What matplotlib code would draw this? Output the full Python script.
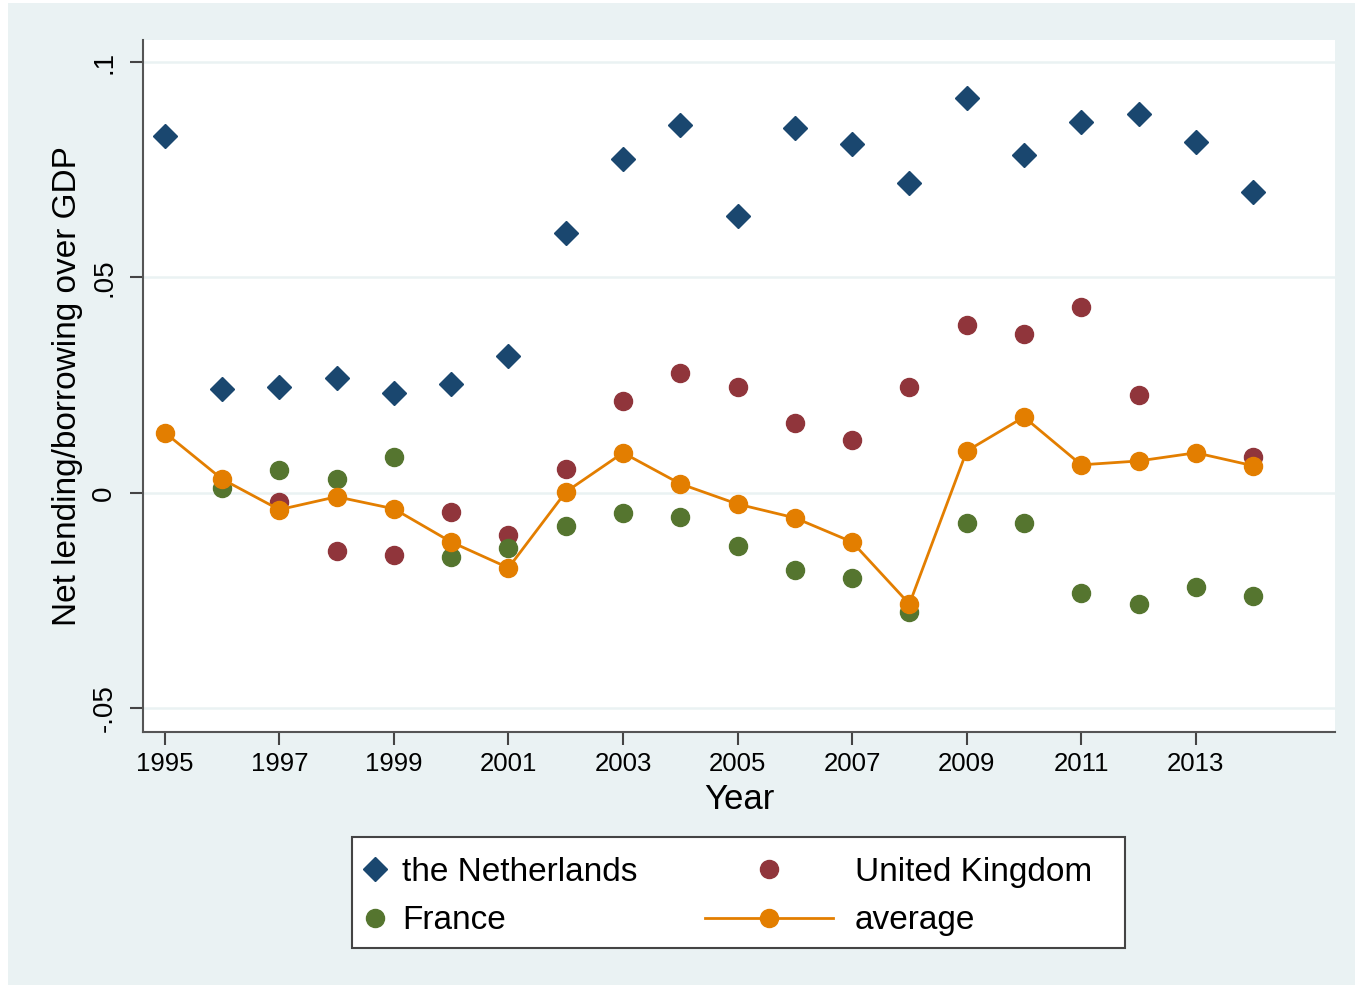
import numpy as np
import matplotlib.pyplot as plt
from matplotlib.lines import Line2D
from matplotlib.patches import Rectangle

plt.rcParams['font.family'] = ['Liberation Sans', 'DejaVu Sans']

# données
years = np.arange(1995, 2015)
netherlands = [0.0828, 0.0241, 0.0246, 0.0267, 0.0232, 0.0253, 0.0318, 0.0603, 0.0775, 0.0854,
               0.0643, 0.0847, 0.0810, 0.0719, 0.0916, 0.0784, 0.0861, 0.0879, 0.0814, 0.0698]
uk = [np.nan, np.nan, -0.0021, -0.0135, -0.0144, -0.0044, -0.0097, 0.0056, 0.0213, 0.0278,
      0.0246, 0.0162, 0.0123, 0.0246, 0.0390, 0.0369, 0.0432, 0.0227, np.nan, 0.0084]
france = [np.nan, 0.0012, 0.0053, 0.0032, 0.0084, -0.0148, -0.0128, -0.0077, -0.0046, -0.0056,
          -0.0123, -0.0179, -0.0197, -0.0276, -0.0070, -0.0070, -0.0232, -0.0258, -0.0218, -0.0239]
average = [0.0140, 0.0032, -0.0039, -0.0009, -0.0037, -0.0114, -0.0174, 0.0002, 0.0093, 0.0021,
           -0.0026, -0.0058, -0.0114, -0.0258, 0.0097, 0.0176, 0.0065, 0.0074, 0.0093, 0.0063]

yticks = [-0.05, 0, 0.05, 0.1]
ytick_labels = ['-.05', '0', '.05', '.1']
xticks = list(range(1995, 2014, 2))

navy = '#1a476f'
maroon = '#90353b'
green = '#55752f'
orange = '#e37e00'
bg = '#eaf2f3'

fig = plt.figure(figsize=(13.58, 9.88), dpi=100, facecolor='white')
fig.patches.append(Rectangle((8 / 1358, 3 / 988), 1347 / 1358, 982 / 988,
                             transform=fig.transFigure, facecolor=bg, edgecolor='none', zorder=-10))
ax = fig.add_axes([143 / 1358, 1 - 732 / 988, 1192 / 1358, 692 / 988])
ax.set_facecolor('white')

ax.plot(years, netherlands, 'D', color=navy, markersize=12, linestyle='none', zorder=3)
ax.plot(years, uk, 'o', color=maroon, markersize=13, linestyle='none', zorder=3)
ax.plot(years, france, 'o', color=green, markersize=13, linestyle='none', zorder=3)
ax.plot(years, average, '-o', color=orange, markersize=13, linewidth=2, zorder=4)

ax.set_xlim(1994.62, 2015.43)
ax.set_ylim(-0.0555, 0.1051)
ax.set_yticks(yticks)
ax.set_yticklabels(ytick_labels, rotation=90, va='center')
ax.set_xticks(xticks)
ax.tick_params(axis='both', direction='out', length=9.5, width=1.5, color='#444444')
ax.tick_params(axis='y', labelsize=20, pad=9)
ax.tick_params(axis='x', labelsize=18.5, pad=5)
ax.grid(axis='y', color=bg, linewidth=1.8, zorder=0)
ax.set_axisbelow(True)
for s in ['top', 'right']:
    ax.spines[s].set_visible(False)
for s in ['left', 'bottom']:
    ax.spines[s].set_color('#555555')
    ax.spines[s].set_linewidth(1.5)

ax.set_xlabel('Year', fontsize=25, labelpad=5)
ax.set_ylabel('Net lending/borrowing over GDP', fontsize=24, labelpad=6)

# légende en deux colonnes dans un cadre commun
fig.patches.append(Rectangle((352 / 1358, 1 - 948 / 988), 773 / 1358, 111 / 988,
                             transform=fig.transFigure, facecolor='white',
                             edgecolor='#444444', linewidth=1.5, zorder=1))
h_nl = Line2D([], [], marker='D', color=navy, markersize=12, linestyle='none')
h_fr = Line2D([], [], marker='o', color=green, markersize=13, linestyle='none')
h_uk = Line2D([], [], marker='o', color=maroon, markersize=13, linestyle='none')
h_avg = Line2D([], [], marker='o', color=orange, markersize=13, linewidth=2)

leg1 = fig.legend([h_nl, h_fr], ['the Netherlands', 'France'], loc='upper left',
                  bbox_to_anchor=(362 / 1358, 1 - 857 / 988), frameon=False, fontsize=24,
                  handlelength=0.8, handletextpad=0.4, labelspacing=0.52, borderpad=0,
                  borderaxespad=0)
leg2 = fig.legend([h_uk, h_avg], ['United Kingdom', 'average'], loc='upper left',
                  bbox_to_anchor=(705 / 1358, 1 - 857 / 988), frameon=False, fontsize=24,
                  handlelength=3.84, handletextpad=0.66, labelspacing=0.52, borderpad=0,
                  borderaxespad=0)
leg1.set_zorder(2)
leg2.set_zorder(2)

fig.savefig('out.png', dpi=100, facecolor=fig.get_facecolor())
